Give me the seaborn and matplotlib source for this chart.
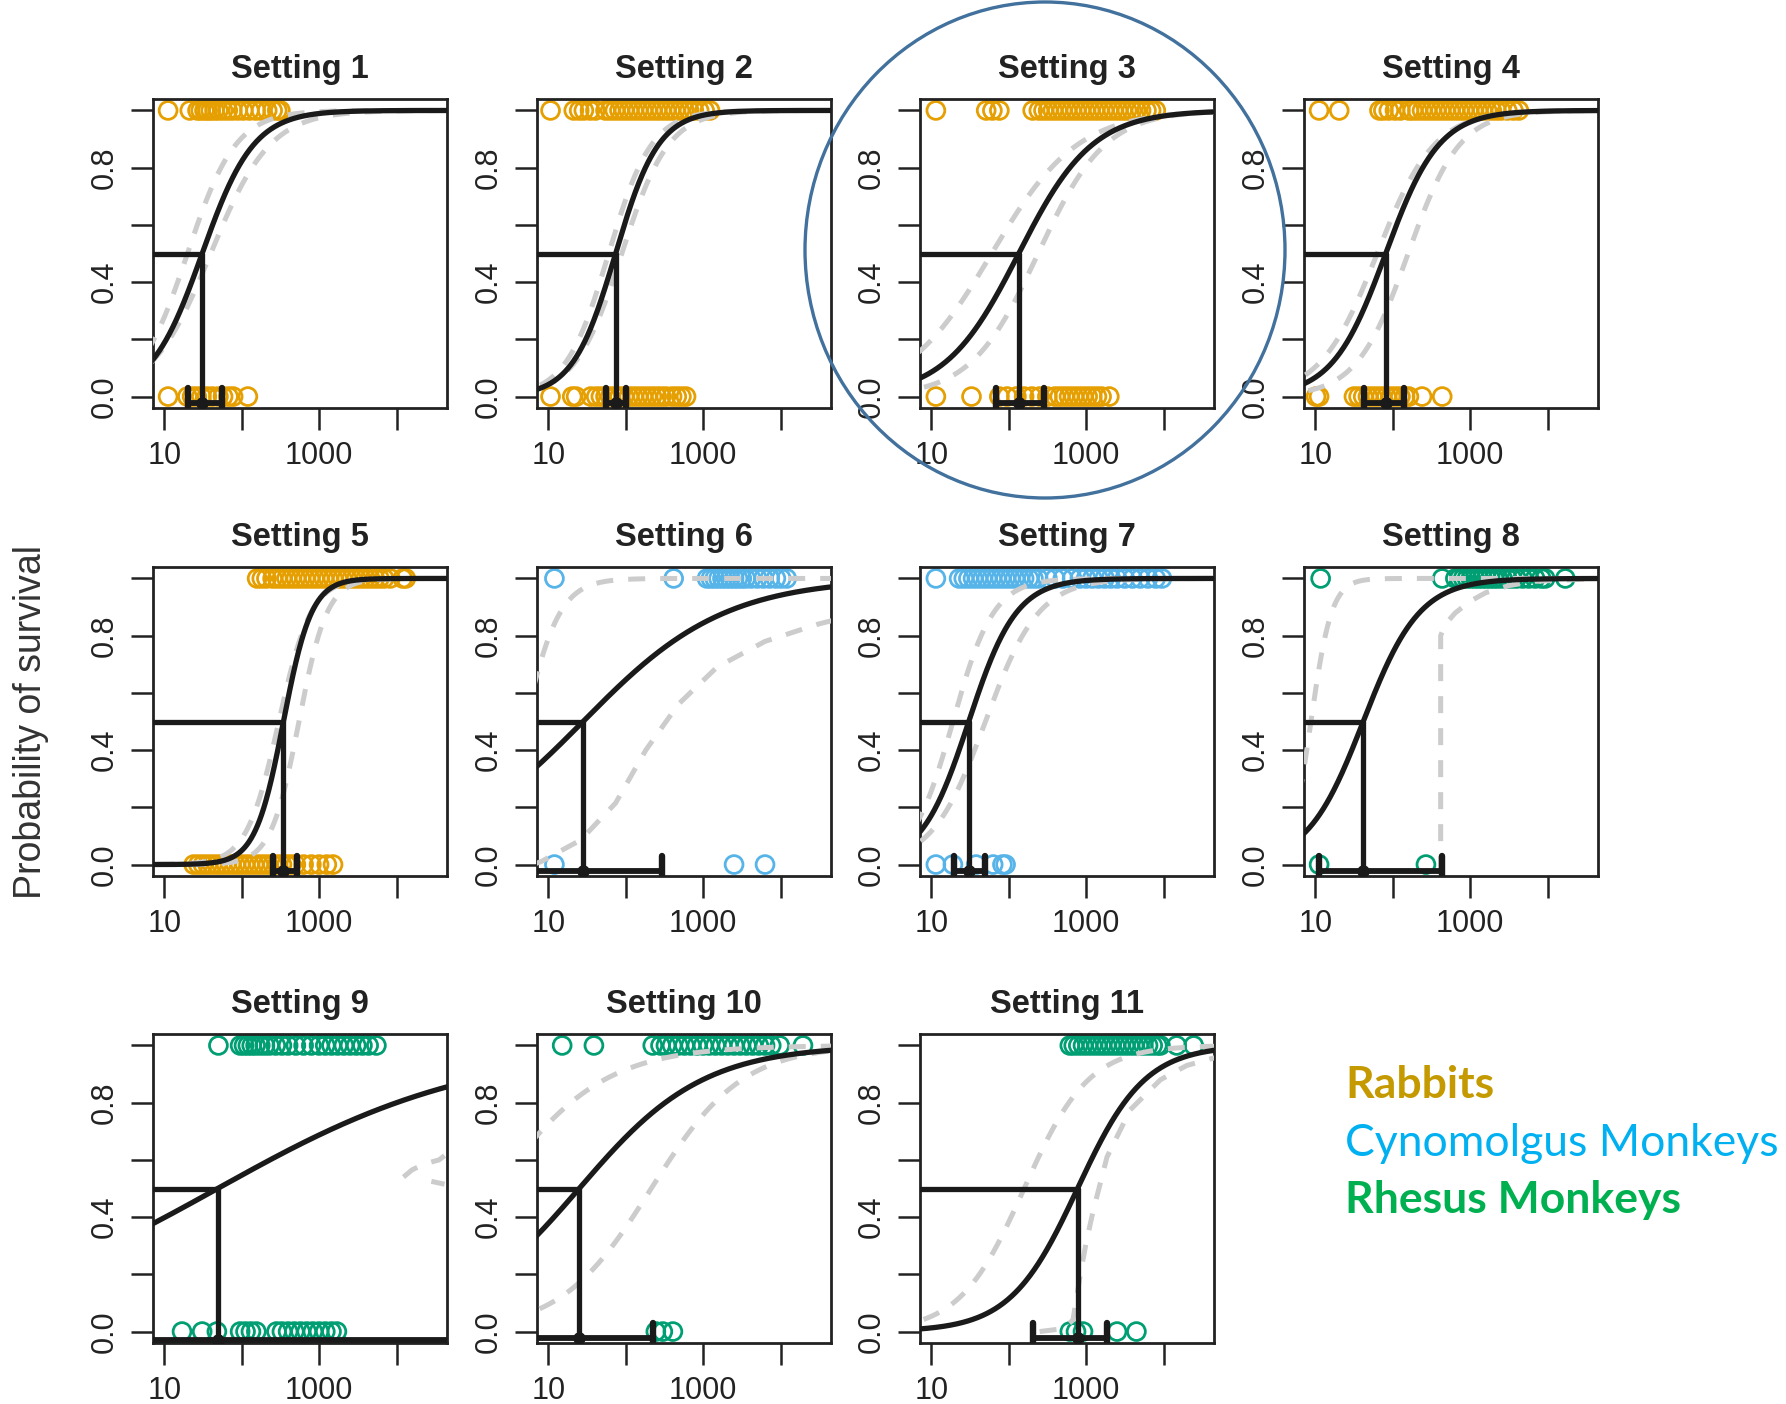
import numpy as np
import matplotlib.pyplot as plt
from matplotlib.patches import Ellipse
import seaborn as sns

sns.set_style("ticks")
plt.rcParams['font.family'] = ['Liberation Sans', 'DejaVu Sans']

# panels
settings = ["Setting %d" % i for i in range(1, 12)]
species = ["rabbit"] * 5 + ["cyno"] * 2 + ["rhesus"] * 4
point_colors = {"rabbit": "#E69F00", "cyno": "#56B4E9", "rhesus": "#009E73"}

# fitted curve: LD50 (log10 dose) and slope per log10 unit
ld50 = [1.49, 1.87, 2.13, 1.91, 2.54, 1.45, 1.485, 1.62, 1.69, 1.40, 2.89]
slope = [3.0, 3.6, 2.1, 2.9, 5.5, 1.09, 3.25, 2.75, 0.6, 1.25, 2.3]

# confidence band curves (None = not drawn as a logistic)
upper_mid = [1.30, 1.78, 1.78, 1.80, 2.48, 0.70, 1.28, 0.945, None, 0.30, 2.20]
upper_slope = [3.2, 3.6, 1.8, 2.7, 4.8, 4.4, 3.8, 7.5, None, 1.4, 2.4]
lower_mid = [1.60, 1.95, 2.38, 2.20, 2.74, None, 1.70, None, None, 2.33, None]
lower_slope = [2.6, 3.3, 2.3, 3.0, 5.5, None, 2.9, None, None, 1.7, None]

# band pieces (log10 dose, probability)
s6_lower_x = [0.80, 0.906, 1.42, 1.87, 2.26, 2.68, 3.18, 3.80, 4.48, 4.70]
s6_lower_y = [0.0, 0.01, 0.086, 0.215, 0.40, 0.56, 0.69, 0.78, 0.84, 0.855]
s8_lower_x = [2.62, 2.62, 2.68, 2.81, 3.0, 3.2, 3.5, 3.84, 4.7]
s8_lower_y = [-0.03, 0.80, 0.84, 0.88, 0.92, 0.95, 0.975, 0.99, 1.0]
s9_band_a_x = [4.09, 4.20, 4.35, 4.55, 4.62]
s9_band_a_y = [0.54, 0.565, 0.585, 0.60, 0.615]
s9_band_b_x = [4.45, 4.62]
s9_band_b_y = [0.525, 0.515]
s11_lower_x = [2.40, 2.70, 2.83, 2.92, 3.00, 3.09, 3.27, 3.57, 3.96, 4.30, 4.70]
s11_lower_y = [0.0, 0.01, 0.04, 0.19, 0.31, 0.42, 0.61, 0.775, 0.88, 0.93, 0.96]

# LD50 interval on the bottom bar (log10 dose)
ci_low = [1.31, 1.74, 1.84, 1.63, 2.41, 0.30, 1.30, 1.05, 0.30, 0.30, 2.32]
ci_high = [1.74, 2.00, 2.46, 2.15, 2.71, 2.47, 1.69, 2.64, 5.20, 2.35, 3.27]

# observed animals (log10 dose): survived (1) / died (0)
surv = [
    [1.05, 1.33, 1.43, 1.47, 1.52, 1.56, 1.60, 1.65, 1.70, 1.76, 1.82, 1.88, 1.95, 2.02, 2.10,
     2.18, 2.25, 2.33, 2.40, 2.46, 2.50],
    [1.03, 1.33, 1.40, 1.46, 1.54, 1.61, 1.74, 1.80, 1.86, 1.92, 1.98, 2.04, 2.10, 2.16, 2.22,
     2.28, 2.34, 2.40, 2.46, 2.52, 2.58, 2.64, 2.70, 2.76, 2.82, 2.88, 2.95, 3.02, 3.09],
    [1.06, 1.71, 1.79, 1.88, 2.31, 2.39, 2.45, 2.51, 2.57, 2.63, 2.69, 2.75, 2.81, 2.87, 2.93,
     2.99, 3.05, 3.11, 3.17, 3.23, 3.29, 3.35, 3.41, 3.47, 3.53, 3.59, 3.65, 3.71, 3.78, 3.84, 3.90],
    [1.05, 1.31, 1.83, 1.88, 1.95, 2.03, 2.10, 2.21, 2.26, 2.32, 2.38, 2.44, 2.50, 2.56, 2.62,
     2.68, 2.74, 2.80, 2.86, 2.92, 2.98, 3.04, 3.10, 3.16, 3.22, 3.28, 3.34, 3.40, 3.48, 3.56, 3.63],
    [2.20, 2.26, 2.32, 2.40, 2.46, 2.52, 2.58, 2.64, 2.70, 2.76, 2.82, 2.88, 2.94, 3.00, 3.06,
     3.12, 3.18, 3.24, 3.30, 3.36, 3.42, 3.48, 3.54, 3.60, 3.66, 3.72, 3.78, 3.84, 3.92, 4.08, 4.12],
    [1.08, 2.62, 3.05, 3.10, 3.15, 3.20, 3.25, 3.30, 3.35, 3.40, 3.45, 3.50, 3.55, 3.62, 3.70,
     3.78, 3.86, 3.94, 4.01, 4.08],
    [1.06, 1.36, 1.42, 1.48, 1.54, 1.60, 1.66, 1.72, 1.78, 1.84, 1.90, 1.96, 2.02, 2.08, 2.14,
     2.20, 2.26, 2.32, 2.38, 2.50, 2.60, 2.70, 2.82, 2.92, 3.00, 3.08, 3.16, 3.24, 3.32, 3.40,
     3.50, 3.60, 3.70, 3.80, 3.90, 3.98],
    [1.07, 2.64, 2.81, 2.86, 2.91, 2.96, 3.01, 3.06, 3.11, 3.16, 3.21, 3.26, 3.31, 3.36, 3.42,
     3.48, 3.54, 3.60, 3.68, 3.76, 3.84, 3.92, 3.97, 4.23],
    [1.70, 1.98, 2.03, 2.08, 2.13, 2.18, 2.24, 2.30, 2.36, 2.44, 2.52, 2.60, 2.70, 2.80, 2.90,
     3.00, 3.08, 3.16, 3.24, 3.32, 3.40, 3.48, 3.56, 3.64, 3.74],
    [1.18, 1.59, 2.35, 2.45, 2.52, 2.60, 2.68, 2.76, 2.84, 2.92, 3.00, 3.08, 3.16, 3.24, 3.32,
     3.40, 3.48, 3.56, 3.64, 3.72, 3.80, 3.88, 3.99, 4.29],
    [2.79, 2.84, 2.90, 2.96, 3.02, 3.08, 3.14, 3.20, 3.26, 3.32, 3.38, 3.44, 3.50, 3.56, 3.62,
     3.68, 3.74, 3.80, 3.86, 3.92, 3.96, 4.17, 4.39],
]
died = [
    [1.05, 1.30, 1.36, 1.42, 1.48, 1.55, 1.62, 1.70, 1.76, 1.83, 1.89, 2.08],
    [1.03, 1.31, 1.36, 1.55, 1.62, 1.68, 1.74, 1.80, 1.86, 1.92, 1.98, 2.04, 2.10, 2.16, 2.22,
     2.28, 2.34, 2.40, 2.46, 2.52, 2.60, 2.66, 2.72, 2.78],
    [1.06, 1.52, 1.88, 1.98, 2.10, 2.20, 2.30, 2.40, 2.50, 2.60, 2.66, 2.72, 2.78, 2.84, 2.90,
     2.96, 3.02, 3.08, 3.14, 3.20, 3.30],
    [1.01, 1.05, 1.50, 1.56, 1.62, 1.68, 1.74, 1.80, 1.86, 1.92, 1.98, 2.04, 2.10, 2.16, 2.21,
     2.38, 2.64],
    [1.38, 1.44, 1.50, 1.56, 1.62, 1.68, 1.74, 1.80, 1.86, 1.92, 1.98, 2.04, 2.10, 2.16, 2.22,
     2.28, 2.34, 2.40, 2.46, 2.52, 2.58, 2.64, 2.70, 2.80, 2.90, 3.00, 3.10, 3.18],
    [1.08, 3.40, 3.80],
    [1.06, 1.28, 1.58, 1.80, 1.92, 1.96],
    [1.05, 2.43],
    [1.23, 1.49, 1.68, 1.98, 2.05, 2.12, 2.19, 2.45, 2.52, 2.60, 2.68, 2.76, 2.84, 2.92, 3.00,
     3.08, 3.16, 3.23],
    [2.39, 2.48, 2.61],
    [2.79, 2.87, 2.96, 3.40, 3.65],
]

legend_labels = ["Rabbits", "Cynomolgus Monkeys", "Rhesus Monkeys"]
legend_colors = ["#C49A00", "#00B0F0", "#00B050"]
legend_weights = ["bold", "normal", "bold"]

W, H = 1786, 1404
col_left = [153, 537, 920, 1304]
row_top = [99, 567, 1034]
pw, ph = 294, 309

fig = plt.figure(figsize=(W / 100, H / 100), dpi=100)

line_col = "#1a1a1a"
band_col = "#CCCCCC"
xgrid = np.logspace(0.5, 5.0, 500)
dash = (0, (3.4, 3.0))
band_lw = 3.6
main_lw = 3.8


def logistic(lx, m, b):
    return 1.0 / (1.0 + np.exp(-b * (lx - m)))


extra_bands = {
    5: [(s6_lower_x, s6_lower_y)],
    7: [(s8_lower_x, s8_lower_y)],
    8: [(s9_band_a_x, s9_band_a_y), (s9_band_b_x, s9_band_b_y)],
    10: [(s11_lower_x, s11_lower_y)],
}

for i in range(11):
    r, c = divmod(i, 4)
    ax = fig.add_axes([col_left[c] / W, 1 - (row_top[r] + ph) / H, pw / W, ph / H])
    ax.set_xscale('log')
    x0, x1 = 10 ** 0.855, 10 ** 4.652
    ax.set_xlim(x0, x1)
    ax.set_ylim(-0.04, 1.04)

    col = point_colors[species[i]]
    sv = 10 ** np.array(surv[i])
    dd = 10 ** np.array(died[i])
    sns.scatterplot(x=sv, y=np.ones(len(sv)), ax=ax, marker='o', s=165,
                    facecolor='none', edgecolor=col, linewidth=2.0, zorder=2)
    sns.scatterplot(x=dd, y=np.zeros(len(dd)), ax=ax, marker='o', s=165,
                    facecolor='none', edgecolor=col, linewidth=2.0, zorder=2)

    lx = np.log10(xgrid)
    if upper_mid[i] is not None:
        ax.plot(xgrid, logistic(lx, upper_mid[i], upper_slope[i]), color=band_col,
                lw=band_lw, linestyle=dash, zorder=3)
    if lower_mid[i] is not None:
        ax.plot(xgrid, logistic(lx, lower_mid[i], lower_slope[i]), color=band_col,
                lw=band_lw, linestyle=dash, zorder=3)
    for bx, by in extra_bands.get(i, []):
        ax.plot(10 ** np.array(bx), by, color=band_col, lw=band_lw, linestyle=dash, zorder=3)

    ax.plot(xgrid, logistic(lx, ld50[i], slope[i]), color=line_col, lw=main_lw, zorder=4)

    m = 10 ** ld50[i]
    bar_y = -0.03 if i == 8 else -0.024
    ax.plot([x0, m], [0.5, 0.5], color=line_col, lw=main_lw, zorder=4)
    ax.plot([m, m], [0.5, bar_y], color=line_col, lw=main_lw, zorder=4)
    lo, hi = 10 ** ci_low[i], 10 ** ci_high[i]
    ax.plot([lo, hi], [bar_y, bar_y], color=line_col, lw=4.2, zorder=4,
            solid_capstyle='butt')
    for e in (lo, hi):
        ax.plot([e, e], [-0.036, 0.03], color=line_col, lw=4.6, zorder=4,
                solid_capstyle='round')
    ax.plot([m], [bar_y], 'o', color=line_col, ms=8, zorder=5)

    ax.set_xticks([10, 100, 1000, 10000])
    ax.set_xticklabels(["10", "", "1000", ""])
    ax.xaxis.set_minor_locator(plt.NullLocator())
    ax.set_yticks([0, 0.2, 0.4, 0.6, 0.8, 1.0])
    ax.set_yticklabels(["0.0", "", "0.4", "", "0.8", ""], rotation=90, va='center')
    ax.tick_params(axis='both', direction='out', length=16, width=1.8, pad=8,
                   labelsize=22, colors="#222222")
    for sp in ax.spines.values():
        sp.set_linewidth(2.0)
        sp.set_color("#222222")
    ax.set_title(settings[i], fontsize=23.5, fontweight='bold', pad=15, color="#222222")
    ax.set_xlabel("")
    ax.set_ylabel("")

fig.text(31 / W, 1 - 722 / H, "Probability of survival", rotation=90, ha='center',
         va='center', fontsize=27, color="#333333")

for k, (lab, lc, fw) in enumerate(zip(legend_labels, legend_colors, legend_weights)):
    fig.text(1345 / W, 1 - (1098 + 57.5 * k) / H, lab, color=lc, fontweight=fw,
             fontsize=32, va='baseline', ha='left', family=['Lato', 'DejaVu Sans'])

ring = Ellipse((1045 / W, 1 - 250 / H), 480 / W, 496 / H, transform=fig.transFigure,
               fill=False, edgecolor="#41719C", lw=2.4, zorder=10)
fig.add_artist(ring)

fig.savefig("out.png", dpi=100)
